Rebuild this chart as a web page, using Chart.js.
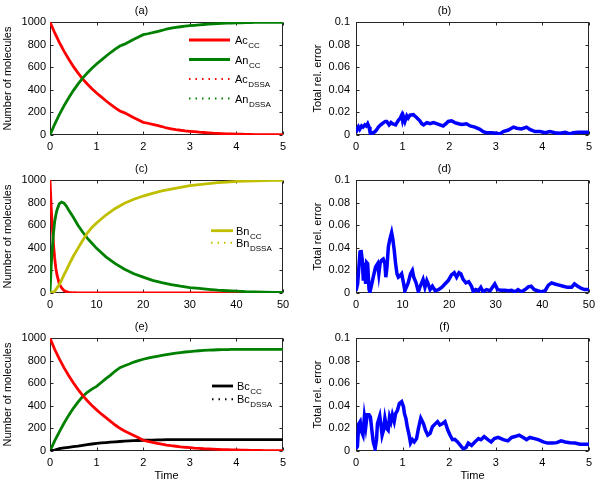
<!DOCTYPE html>
<html>
<head>
<meta charset="utf-8">
<script src="https://cdn.jsdelivr.net/npm/chart.js@4.4.1/dist/chart.umd.min.js"></script>
<style>
  html, body { margin: 0; padding: 0; background: #fff; }
  body { width: 600px; height: 484px; position: relative; overflow: hidden; }
  .p { position: absolute; }
  canvas { display: block; }
</style>
</head>
<body>
<div class="p" style="left:0;top:0"><canvas id="ca" width="300" height="158"></canvas></div>
<div class="p" style="left:300px;top:0"><canvas id="cb" width="300" height="158"></canvas></div>
<div class="p" style="left:0;top:158px"><canvas id="cc" width="300" height="158"></canvas></div>
<div class="p" style="left:300px;top:158px"><canvas id="cd" width="300" height="158"></canvas></div>
<div class="p" style="left:0;top:316px"><canvas id="ce" width="300" height="168"></canvas></div>
<div class="p" style="left:300px;top:316px"><canvas id="cf" width="300" height="168"></canvas></div>
<script>
// ---------------- DATA ----------------
const panelTitles = ['(a)', '(b)', '(c)', '(d)', '(e)', '(f)'];
const yTitleLeft = 'Number of molecules';
const yTitleRight = 'Total rel. error';
const xTitleBottom = 'Time';

const xTicks5 = [0, 1, 2, 3, 4, 5];
const xTicks50 = [0, 10, 20, 30, 40, 50];
const yTicksMol = [0, 200, 400, 600, 800, 1000];
const yTickLabelsMol = ['0', '200', '400', '600', '800', '1000'];
const yTicksErr = [0, 0.02, 0.04, 0.06, 0.08, 0.1];
const yTickLabelsErr = ['0', '0.02', '0.04', '0.06', '0.08', '0.1'];

const legendA = [['Ac', 'CC'], ['An', 'CC'], ['Ac', 'DSSA'], ['An', 'DSSA']];
const legendC = [['Bn', 'CC'], ['Bn', 'DSSA']];
const legendE = [['Bc', 'CC'], ['Bc', 'DSSA']];

// (a) and (e): time grid 0..5
const tA = [0,0.1,0.2,0.3,0.4,0.5,0.6,0.7,0.8,0.9,1.0,1.1,1.2,1.3,1.4,1.5,1.6,1.7,1.8,1.9,2.0,2.1,2.2,2.3,2.4,2.5,2.6,2.7,2.8,2.9,3.0,3.1,3.2,3.3,3.4,3.5,3.6,3.7,3.8,3.9,4.0,4.1,4.2,4.3,4.4,4.5,4.6,4.7,4.8,4.9,5.0];
const acA = [1000,905,820,742,672,607,550,497,452,410,372,338,303,270,240,213,196,175,152,132,112,104,95,85,75,62,55,48,42,37,33,29,25,22,19,16,14,12,10,9,8,7,6,5,4,4,3,3,2,2,2];
const anA = [0,95,180,258,328,393,450,503,548,590,628,662,697,730,760,787,804,825,848,868,888,896,905,915,925,938,945,952,958,963,967,971,975,978,981,984,986,988,990,991,992,993,994,995,996,996,997,997,998,998,998];

const acE = [1000,900,815,738,668,604,545,492,445,402,364,328,295,262,230,201,178,158,138,118,95,85,76,68,60,53,47,42,37,33,30,26,23,20,18,16,14,12,11,10,9,8,7,6,5,5,4,4,3,3,3];
const anE = [0,90,170,245,315,378,432,482,520,548,572,606,640,672,708,738,755,770,787,800,812,822,830,838,846,853,860,866,871,876,880,884,887,890,892,894,896,897,898,899,900,900,900,900,900,900,900,900,900,900,900];
const bcE = [0,8,20,27,33,38,43,50,56,62,67,71,75,78,81,84,87,89,91,93,95,96,97,98,99,100,100,100,100,100,100,100,100,100,100,100,100,100,100,100,100,100,100,100,100,100,100,100,100,100,100];

// (c): time 0..50
const tC = [0,0.25,0.5,0.75,1,1.25,1.5,2,2.5,3,3.5,4,5,6,7,8,9,10,12,14,16,18,20,22,24,26,28,30,32,34,36,38,40,42,44,46,48,50];
const acC = [1000,760,580,430,310,220,160,80,45,22,12,6,2,1,0,0,0,0,0,0,0,0,0,0,0,0,0,0,0,0,0,0,0,0,0,0,0,0];
const anC = [0,230,400,530,630,690,735,790,805,795,770,735,670,600,540,485,440,395,320,260,210,170,140,112,92,75,60,48,40,32,25,20,16,12,10,8,6,5];
const bnC = [0,2,5,10,15,30,45,75,115,160,200,245,325,395,465,530,580,620,690,748,795,830,858,882,903,920,935,950,960,968,976,982,987,990,993,995,996,997];

// (b) error
const tB = [0,0.03,0.05,0.08,0.12,0.15,0.19,0.22,0.25,0.28,0.30,0.35,0.41,0.45,0.48,0.53,0.59,0.63,0.66,0.71,0.75,0.78,0.85,0.91,0.95,0.98,1.00,1.02,1.05,1.09,1.12,1.16,1.23,1.30,1.37,1.41,1.45,1.52,1.59,1.66,1.73,1.80,1.87,1.93,1.98,2.05,2.12,2.20,2.27,2.37,2.45,2.55,2.66,2.73,2.80,2.91,3.02,3.09,3.16,3.27,3.38,3.45,3.55,3.66,3.73,3.84,3.95,4.06,4.16,4.27,4.38,4.49,4.59,4.66,4.77,5.0];
const errB = [0.002,0.006,0.0074,0.005,0.008,0.007,0.009,0.008,0.010,0.007,0.003,0.0015,0.003,0.005,0.007,0.009,0.011,0.012,0.012,0.009,0.011,0.010,0.009,0.013,0.015,0.0176,0.013,0.016,0.012,0.017,0.015,0.0176,0.018,0.0155,0.0126,0.010,0.009,0.011,0.010,0.011,0.010,0.009,0.008,0.010,0.012,0.0126,0.011,0.010,0.0094,0.010,0.008,0.007,0.005,0.003,0.002,0.002,0.0015,0.001,0.003,0.0044,0.007,0.006,0.0053,0.007,0.005,0.003,0.003,0.002,0.003,0.002,0.0015,0.0024,0.001,0.002,0.0024,0.0024];

// (d) error
const tD = [0,0.35,0.86,1.07,1.36,1.57,1.79,2.07,2.29,2.5,2.8,3.0,3.4,3.7,4.2,4.65,4.9,5.2,5.5,5.85,6.2,6.4,6.65,6.95,7.3,7.65,7.9,8.2,8.5,8.8,9.1,9.4,9.8,10.2,10.5,10.9,11.2,11.7,12.1,12.4,12.9,13.4,13.7,14.1,14.4,14.8,15.2,15.5,15.9,16.4,17.0,17.7,18.4,19.1,19.8,20.5,21.1,21.6,22.1,22.5,23.0,23.6,24.2,24.8,25.2,25.7,26.3,26.8,27.3,28.0,28.8,29.3,29.8,30.4,31.1,32.0,32.7,33.4,34.1,34.8,35.5,36.3,37.0,37.6,38.3,39.0,39.9,40.6,41.3,42.0,42.7,43.6,44.5,45.4,46.3,46.9,47.6,48.4,49.1,50];
const errD = [0.002,0.008,0.036,0.038,0.029,0.011,0.027,0.008,0.027,0.026,0.003,0.001,0.008,0.014,0.023,0.026,0.017,0.027,0.029,0.030,0.026,0.014,0.023,0.041,0.048,0.0535,0.048,0.038,0.026,0.017,0.014,0.015,0.017,0.009,0.002,0.006,0.009,0.017,0.020,0.014,0.009,0.001,0.005,0.009,0.012,0.005,0.011,0.008,0.003,0.006,0.002,0.003,0.005,0.008,0.011,0.016,0.018,0.014,0.018,0.017,0.012,0.009,0.010,0.006,0.001,0.003,0.002,0.005,0.001,0.003,0.002,0.005,0.008,0.003,0.0024,0.0024,0.002,0.0024,0.001,0.003,0.001,0.003,0.0054,0.006,0.003,0.002,0.001,0.002,0.007,0.009,0.008,0.007,0.006,0.005,0.005,0.008,0.006,0.004,0.003,0.003];

// (f) error
const tF = [0,0.03,0.06,0.09,0.12,0.15,0.18,0.21,0.24,0.28,0.31,0.34,0.37,0.41,0.44,0.46,0.51,0.54,0.56,0.59,0.62,0.66,0.69,0.72,0.75,0.78,0.82,0.85,0.89,0.93,0.98,1.02,1.04,1.07,1.10,1.14,1.17,1.21,1.25,1.30,1.34,1.39,1.45,1.49,1.54,1.59,1.64,1.70,1.75,1.80,1.85,1.91,1.97,2.02,2.07,2.12,2.18,2.24,2.30,2.36,2.41,2.48,2.55,2.63,2.68,2.75,2.83,2.90,2.97,3.05,3.16,3.26,3.34,3.43,3.50,3.59,3.66,3.73,3.83,3.91,4.02,4.11,4.21,4.31,4.40,4.49,4.59,4.70,4.81,4.91,5.0];
const errF = [0.002,0.004,0.024,0.026,0.017,0.014,0.030,0.0215,0.032,0.032,0.030,0.0185,0.008,0.002,0.010,0.024,0.031,0.0215,0.014,0.0185,0.029,0.020,0.0185,0.030,0.026,0.032,0.026,0.033,0.036,0.042,0.0436,0.039,0.033,0.029,0.0215,0.014,0.007,0.010,0.008,0.011,0.020,0.029,0.024,0.0185,0.014,0.0155,0.0215,0.024,0.026,0.023,0.024,0.026,0.0185,0.014,0.010,0.0103,0.008,0.005,0.002,0.003,0.007,0.005,0.008,0.011,0.010,0.0127,0.010,0.008,0.011,0.012,0.010,0.009,0.012,0.013,0.014,0.012,0.010,0.012,0.011,0.010,0.008,0.007,0.007,0.0074,0.009,0.008,0.0074,0.007,0.006,0.006,0.006];

// ---------------- STYLE ----------------
const RED = '#ff0000', GREEN = '#008000', YELLOW = '#bfbf00', BLUE = '#0000ff', BLACK = '#000000';
const FONT = '"Liberation Sans", Arial, Helvetica, sans-serif';
Chart.defaults.font.family = FONT;
Chart.defaults.font.size = 11;
Chart.defaults.color = '#000';

function zip(xs, ys) { return xs.map((x, i) => ({ x: x, y: ys[i] })); }
function line(xs, ys, color, w) {
  return { data: zip(xs, ys), borderColor: color, backgroundColor: color, borderWidth: w || 2.8,
           pointRadius: 0, tension: 0, fill: false };
}

// box frame with inward ticks on all four sides
const framePlugin = {
  id: 'frame',
  beforeDatasetsDraw(chart) {
    const { ctx, chartArea: a } = chart;
    const xs = chart.scales.x, ys = chart.scales.y;
    ctx.save();
    ctx.strokeStyle = '#262626';
    ctx.lineWidth = 1;
    const L = Math.round(a.left) + 0.5, R = Math.round(a.right) - 0.5;
    const T = Math.round(a.top) + 0.5, B = Math.round(a.bottom) - 0.5;
    ctx.strokeRect(L, T, R - L, B - T);
    const tl = 3;
    ctx.beginPath();
    xs.ticks.forEach(t => {
      const px = Math.round(xs.getPixelForValue(t.value)) + 0.5;
      ctx.moveTo(px, B); ctx.lineTo(px, B - tl);
      ctx.moveTo(px, T); ctx.lineTo(px, T + tl);
    });
    ys.ticks.forEach(t => {
      const py = Math.round(ys.getPixelForValue(t.value)) + 0.5;
      ctx.moveTo(L, py); ctx.lineTo(L + tl, py);
      ctx.moveTo(R, py); ctx.lineTo(R - tl, py);
    });
    ctx.stroke();
    ctx.restore();
  }
};

// legend with subscripts
const subLegendPlugin = {
  id: 'subLegend',
  afterDatasetsDraw(chart, args, opts) {
    if (!opts || !opts.items) return;
    const ctx = chart.ctx;
    opts.items.forEach(it => {
      ctx.save();
      ctx.strokeStyle = it.color;
      if (it.dotted) { ctx.lineWidth = 2; ctx.setLineDash([1.5, 5]); }
      else { ctx.lineWidth = 2.8; ctx.setLineDash([]); }
      ctx.beginPath();
      ctx.moveTo(opts.x1, it.y); ctx.lineTo(opts.x2, it.y);
      ctx.stroke();
      ctx.setLineDash([]);
      ctx.fillStyle = '#000';
      ctx.textBaseline = 'alphabetic';
      ctx.textAlign = 'left';
      ctx.font = '11px ' + FONT;
      ctx.fillText(it.text[0], opts.tx, it.y + 4);
      const w = ctx.measureText(it.text[0]).width;
      ctx.font = '8px ' + FONT;
      ctx.fillText(it.text[1], opts.tx + w + 0.5, it.y + 8);
      ctx.restore();
    });
  }
};

function makeChart(id, cfg) {
  const isRight = cfg.right;
  const yTicks = isRight ? yTicksErr : yTicksMol;
  const yLabels = isRight ? yTickLabelsErr : yTickLabelsMol;
  return new Chart(document.getElementById(id), {
    type: 'line',
    data: { datasets: cfg.datasets },
    plugins: [framePlugin, subLegendPlugin],
    options: {
      responsive: false,
      animation: false,
      devicePixelRatio: 1,
      layout: { autoPadding: false, padding: { left: 0, top: 0, bottom: 0, right: isRight ? 11 : 17 } },
      plugins: {
        legend: { display: false },
        tooltip: { enabled: false },
        title: { display: true, text: cfg.title, color: '#000',
                 font: { size: 11, weight: 'normal', lineHeight: 1.2 }, padding: { top: 4.4, bottom: 4.4 } },
        subLegend: cfg.legend || {}
      },
      scales: {
        x: {
          type: 'linear', min: 0, max: cfg.xTicks[cfg.xTicks.length - 1],
          afterBuildTicks: s => { s.ticks = cfg.xTicks.map(v => ({ value: v })); },
          afterFit: s => { s.height = cfg.xTitle ? 33 : 23; },
          grid: { display: false, drawTicks: false },
          border: { display: false },
          ticks: { padding: 5, maxRotation: 0, autoSkip: false, color: '#000',
                   font: { size: 11, lineHeight: 1.2 },
                   callback: v => String(v) },
          title: { display: !!cfg.xTitle, text: cfg.xTitle || '', color: '#000',
                   font: { size: 11, lineHeight: 1 }, padding: { top: 2.5, bottom: 2.5 } }
        },
        y: {
          type: 'linear', min: 0, max: yTicks[yTicks.length - 1],
          afterBuildTicks: s => { s.ticks = yTicks.map(v => ({ value: v })); },
          afterFit: s => { s.width = isRight ? 56 : 50; },
          grid: { display: false, drawTicks: false },
          border: { display: false },
          ticks: { padding: isRight ? 6 : 4, autoSkip: false, color: '#000', font: { size: 11 },
                   callback: (v) => { const i = yTicks.findIndex(t => Math.abs(t - v) < 1e-9); return i >= 0 ? yLabels[i] : ''; } },
          title: { display: true, text: isRight ? yTitleRight : yTitleLeft, color: '#000',
                   font: { size: 11, lineHeight: 1 },
                   padding: isRight ? { top: 12.5, bottom: 12.5 } : { top: 2.5, bottom: 2.5 } }
        }
      }
    }
  });
}

makeChart('ca', {
  title: panelTitles[0], xTicks: xTicks5,
  datasets: [line(tA, anA, GREEN), line(tA, acA, RED)],
  legend: { x1: 189, x2: 230, tx: 235, items: [
    { text: legendA[0], color: RED, y: 40 },
    { text: legendA[1], color: GREEN, y: 59.5 },
    { text: legendA[2], color: RED, y: 79, dotted: true },
    { text: legendA[3], color: GREEN, y: 98.5, dotted: true }
  ] }
});
makeChart('cb', { title: panelTitles[1], xTicks: xTicks5, right: true, datasets: [line(tB, errB, BLUE, 3.5)] });
makeChart('cc', {
  title: panelTitles[2], xTicks: xTicks50,
  datasets: [line(tC, bnC, YELLOW), line(tC, anC, GREEN), line(tC, acC, RED)],
  legend: { x1: 211, x2: 233, tx: 236, items: [
    { text: legendC[0], color: YELLOW, y: 72.7 },
    { text: legendC[1], color: YELLOW, y: 84.7, dotted: true }
  ] }
});
makeChart('cd', { title: panelTitles[3], xTicks: xTicks50, right: true, datasets: [line(tD, errD, BLUE, 3.5)] });
makeChart('ce', {
  title: panelTitles[4], xTicks: xTicks5, xTitle: xTitleBottom,
  datasets: [line(tA, acE, RED), line(tA, bcE, BLACK), line(tA, anE, GREEN)],
  legend: { x1: 212, x2: 233, tx: 237, items: [
    { text: legendE[0], color: BLACK, y: 70 },
    { text: legendE[1], color: BLACK, y: 83.3, dotted: true }
  ] }
});
makeChart('cf', { title: panelTitles[5], xTicks: xTicks5, xTitle: xTitleBottom, right: true, datasets: [line(tF, errF, BLUE, 3.5)] });
</script>
</body>
</html>
